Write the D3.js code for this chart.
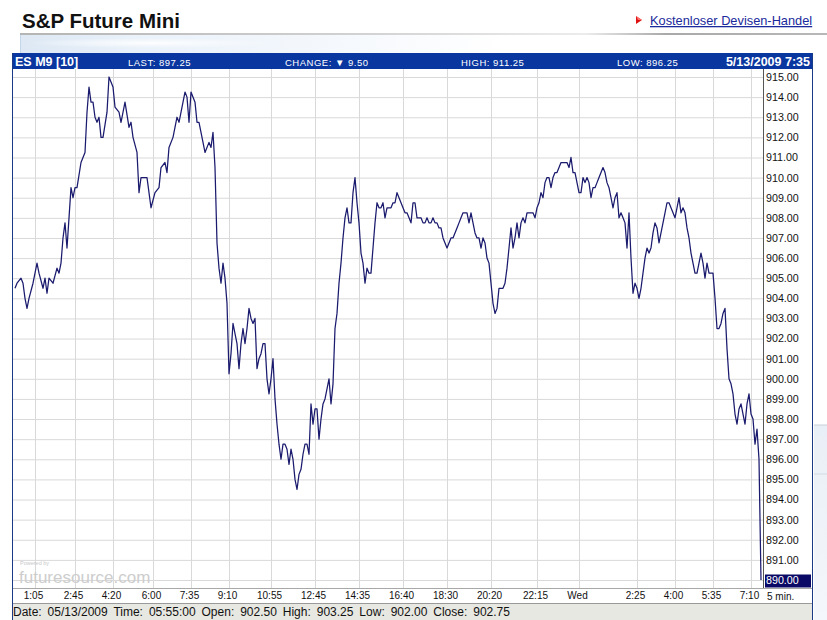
<!DOCTYPE html>
<html>
<head>
<meta charset="utf-8">
<script src="https://cdn.jsdelivr.net/npm/d3@7"></script>
<style>
html,body{margin:0;padding:0;background:#fff;}
svg{display:block;font-family:"Liberation Sans",Arial,sans-serif;}
</style>
</head>
<body>
<svg id="chart" width="827" height="620"></svg>
<script>
// ---- data ----
const title = "S&P Future Mini";
const linkText = "Kostenloser Devisen-Handel";
const symbol = "ES M9 [10]";
const lastPrice = "897.25";
const changeVal = "9.50";
const highVal = "911.25";
const lowVal = "896.25";
const stamp = "5/13/2009 7:35";
const statusItems = ["Date: 05/13/2009", "Time: 05:55:00", "Open: 902.50", "High: 903.25", "Low: 902.00", "Close: 902.75"];

// 5-minute bar index of each x tick and its label
const tickBars = [11, 31, 50, 70, 89, 108, 129, 151, 173, 195, 217, 239, 262, 283, 312, 331, 350, 369];
const tickLabels = ["1:05", "2:45", "4:20", "6:00", "7:35", "9:10", "10:55", "12:45", "14:35", "16:40", "18:30", "20:20", "22:15", "Wed", "2:25", "4:00", "5:35", "7:10"];
const intervalLabel = "5 min.";
const priceTicks = [890, 891, 892, 893, 894, 895, 896, 897, 898, 899, 900, 901, 902, 903, 904, 905, 906, 907, 908, 909, 910, 911, 912, 913, 914, 915];

// price series: bar index and price
const earlyBars = [1, 2, 4, 5, 6, 7, 8, 10, 12, 13, 15, 16, 17, 18, 20, 22, 23, 24, 25, 26, 27, 28, 29, 30, 31, 32, 34, 35, 36, 37, 38, 39, 40, 41, 42, 43, 44, 45, 47, 48, 50, 51, 53, 54, 56, 58, 59, 60, 62, 63, 64, 67, 68, 69, 71, 73, 74, 76, 77, 78, 80, 82, 83, 85, 86, 87, 88, 89, 91, 92, 93, 94, 96, 98, 99, 100];
const earlyPrices = [904.5, 904.75, 905.0, 904.75, 904.0, 903.5, 904.0, 904.75, 905.75, 905.25, 904.5, 905.0, 904.25, 905.0, 904.75, 905.5, 905.25, 905.75, 907.0, 907.75, 906.5, 908.0, 909.5, 909.0, 909.5, 909.5, 910.75, 911.0, 911.25, 913.25, 914.5, 913.75, 913.75, 913.0, 912.75, 913.0, 912.0, 912.0, 913.25, 915.0, 914.5, 913.5, 913.25, 912.75, 913.75, 912.5, 912.75, 912.0, 911.25, 909.25, 910.0, 910.0, 909.25, 908.5, 909.25, 909.5, 910.5, 910.75, 910.25, 911.5, 912.0, 913.0, 912.75, 913.75, 914.25, 914.0, 912.75, 914.25, 913.75, 912.75, 912.75, 912.25, 911.25, 911.75, 911.5, 912.25];
const laterFirstBar = 101;
const laterPrices = [
  910.5,906.75,905.5,904.75,905.75,905.0,903.75,900.25,901.25,902.75,
  902.25,901.75,900.5,901.75,902.5,901.75,902.5,903.5,903.0,902.75,
  903.0,900.5,901.0,901.25,901.75,901.75,900.0,899.25,900.0,901.0,
  899.0,897.75,896.75,896.0,896.75,896.75,896.5,895.75,896.5,896.0,
  895.0,894.5,895.25,895.5,896.25,896.75,896.75,896.25,898.75,897.75,
  898.5,898.5,897.0,898.0,898.75,899.0,899.5,900.0,898.75,899.75,
  902.5,903.25,904.75,905.75,907.0,908.0,908.5,907.75,907.75,909.25,
  910.0,908.75,907.75,906.25,905.75,904.75,905.5,905.25,905.25,906.5,
  907.75,908.75,908.5,908.5,908.75,908.0,908.5,908.5,908.5,908.75,
  908.75,909.25,909.0,908.75,908.5,908.25,908.25,908.0,907.75,908.75,
  908.75,908.0,908.0,908.0,907.75,907.75,908.0,907.75,907.75,908.0,
  907.75,907.75,907.5,907.5,907.0,906.75,906.5,906.75,907.0,907.0,
  907.25,907.5,907.75,908.0,908.25,908.25,908.25,907.75,908.25,907.75,
  907.25,907.0,907.0,906.5,907.0,906.75,906.0,905.75,904.75,903.75,
  903.25,903.5,904.5,904.5,904.5,904.75,905.5,906.5,907.5,906.5,
  907.0,907.75,907.0,907.75,908.0,907.75,908.25,908.25,908.25,908.25,
  908.0,908.5,908.75,909.25,909.0,909.75,910.0,910.0,909.5,910.0,
  910.25,910.25,910.5,910.75,910.75,910.75,910.75,910.5,911.0,910.25,
  910.25,909.75,909.25,909.25,910.0,909.75,910.0,909.75,909.0,909.5,
  909.5,909.75,910.0,910.25,910.5,910.25,909.75,909.5,909.0,908.5,
  909.0,909.25,908.0,908.25,908.0,907.75,906.5,908.25,906.0,904.25,
  904.75,904.5,904.0,904.5,905.25,906.0,906.5,906.25,906.5,907.25,
  907.75,907.5,906.75,907.25,907.75,908.25,908.75,908.75,908.5,908.25,
  908.0,908.5,909.0,908.25,908.5,908.25,907.5,907.0,906.25,905.75,
  905.25,905.25,905.75,906.25,905.75,905.0,905.75,905.25,905.25,905.25,
  904.0,902.5,902.5,902.75,903.25,903.5,901.5,900.0,899.75,899.25,
  898.25,897.75,898.5,898.75,898.25,897.75,898.75,899.25,898.25,898.0,
  896.75,897.5,896.0,890.0
];
const laterBars = d3.range(laterFirstBar, laterFirstBar + laterPrices.length);
const bars = earlyBars.concat(laterBars);
const prices = earlyPrices.concat(laterPrices);
const series = bars.map((b, i) => ({bar: b, price: prices[i]}));

// ---- layout ----
const svg = d3.select("#chart");
const F = "'Liberation Sans',Arial,sans-serif";
const plotL = 13, plotR = 763, plotT = 69, plotB = 588;
const x = d3.scaleLinear().domain([0, 374]).range([13, 761]);
const y = d3.scaleLinear().domain([890, 915]).range([580, 77]);

const defs = svg.append("defs");
const g1 = defs.append("linearGradient").attr("id", "hdrLine").attr("x1", 0).attr("x2", 1);
[[0, "#b4b4b4"], [0.45, "#d4d4d4"], [0.7, "#ececec"], [0.8, "#a9a9a9"], [1, "#b8b8b8"]]
  .forEach(s => g1.append("stop").attr("offset", s[0]).attr("stop-color", s[1]));
const g2 = defs.append("linearGradient").attr("id", "glow").attr("x1", 0).attr("x2", 1);
[[0, "#dde8f4"], [0.15, "#eaf2fa"], [0.35, "#f3f7fc"], [0.6, "#ffffff"], [1, "#ffffff"]]
  .forEach(s => g2.append("stop").attr("offset", s[0]).attr("stop-color", s[1]));
const g3 = defs.append("linearGradient").attr("id", "side").attr("x1", 0).attr("x2", 0).attr("y1", 0).attr("y2", 1);
[[0, "#e9eff6"], [1, "#f4f7fb"]].forEach(s => g3.append("stop").attr("offset", s[0]).attr("stop-color", s[1]));
const g4 = defs.append("radialGradient").attr("id", "streak");
[[0, "#ffffff", 0.9], [1, "#ffffff", 0]].forEach(s => g4.append("stop").attr("offset", s[0])
  .attr("stop-color", s[1]).attr("stop-opacity", s[2]));

// header
svg.append("text").attr("x", 22).attr("y", 28).attr("font-family", F).attr("font-weight", "bold")
  .attr("font-size", 20.5).attr("fill", "#111").text(title);
svg.append("path").attr("d", "M636,16 L642,20 L636,24 Z").attr("fill", "#e01010");
svg.append("path").attr("d", "M636,16 L642,20 L638,20 Z").attr("fill", "#ff7070");
svg.append("text").attr("x", 650).attr("y", 25).attr("font-family", F).attr("font-size", 12.8)
  .attr("fill", "#1a2a9c").attr("text-decoration", "underline").text(linkText);
svg.append("rect").attr("x", 20).attr("y", 33).attr("width", 807).attr("height", 2).attr("fill", "url(#hdrLine)");
svg.append("rect").attr("x", 20).attr("y", 35).attr("width", 807).attr("height", 18).attr("fill", "url(#glow)");
svg.append("rect").attr("x", 20).attr("y", 35).attr("width", 1).attr("height", 18).attr("fill", "#c4d6ea");
svg.append("ellipse").attr("cx", 150).attr("cy", 43).attr("rx", 125).attr("ry", 5).attr("fill", "url(#streak)");

// side panel right of frame
svg.append("rect").attr("x", 814).attr("y", 425).attr("width", 13).attr("height", 195).attr("fill", "url(#side)");
svg.append("line").attr("x1", 814).attr("x2", 827).attr("y1", 425).attr("y2", 425).attr("stroke", "#c8d0d8");
svg.append("line").attr("x1", 814).attr("x2", 827).attr("y1", 474).attr("y2", 474).attr("stroke", "#d4dae2");

// plot background
svg.append("rect").attr("x", 12).attr("y", 69).attr("width", 801).attr("height", 535).attr("fill", "#fff");

// gridlines
svg.append("g").selectAll("line").data(priceTicks).join("line")
  .attr("x1", plotL).attr("x2", plotR).attr("y1", d => y(d) + 0.5).attr("y2", d => y(d) + 0.5)
  .attr("stroke", "#d9d9d9").attr("stroke-width", 1);
svg.append("g").selectAll("line").data(tickBars).join("line")
  .attr("x1", d => Math.round(x(d)) + 0.5).attr("x2", d => Math.round(x(d)) + 0.5)
  .attr("y1", plotT).attr("y2", plotB)
  .attr("stroke", "#d9d9d9").attr("stroke-width", 1);

// watermark
svg.append("text").attr("x", 20).attr("y", 565).attr("font-family", F).attr("font-size", 5.5)
  .attr("fill", "#c8c8c8").text("Powered by");
svg.append("text").attr("x", 19).attr("y", 583).attr("font-family", F).attr("font-size", 17)
  .attr("fill", "#cdcdcd").text("futuresource.com");

// price line
const line = d3.line().x(d => x(d.bar)).y(d => y(d.price));
svg.append("path").datum(series).attr("d", line).attr("fill", "none")
  .attr("stroke", "#1a1a6e").attr("stroke-width", 1.25).attr("stroke-linejoin", "round");

// y axis (right)
svg.append("line").attr("x1", plotR + 0.5).attr("x2", plotR + 0.5).attr("y1", plotT).attr("y2", plotB)
  .attr("stroke", "#555").attr("stroke-width", 1);
const yAxis = d3.axisRight(y).tickValues(priceTicks).tickSize(0).tickPadding(3).tickFormat(d3.format(".2f"));
const ya = svg.append("g").attr("transform", `translate(${plotR},0)`).call(yAxis);
ya.select(".domain").remove();
ya.selectAll("text").attr("font-family", F).attr("font-size", 10.7).attr("fill", "#111");
// highlighted bottom label
const lowTick = priceTicks[0];
ya.selectAll(".tick").filter(d => d === lowTick).insert("rect", "text")
  .attr("x", 2).attr("y", -6).attr("width", 46).attr("height", 13).attr("fill", "#0a0a66");
ya.selectAll(".tick").filter(d => d === lowTick).select("text").attr("fill", "#fff");

// x axis
svg.append("line").attr("x1", 12).attr("x2", 813).attr("y1", plotB + 0.5).attr("y2", plotB + 0.5)
  .attr("stroke", "#a8a8a8");
const xAxis = d3.axisBottom(x).tickValues(tickBars).tickSize(0).tickPadding(4)
  .tickFormat((d, i) => tickLabels[i]);
const xa = svg.append("g").attr("transform", `translate(-2,${plotB})`).call(xAxis);
xa.select(".domain").remove();
xa.selectAll("text").attr("font-family", F).attr("font-size", 10).attr("fill", "#111");
svg.append("text").attr("x", 767).attr("y", 600).attr("font-family", F).attr("font-size", 10)
  .attr("fill", "#111").text(intervalLabel);

// status bar
svg.append("rect").attr("x", 12).attr("y", 603).attr("width", 801).attr("height", 17).attr("fill", "#e8e8e2");
svg.append("line").attr("x1", 12).attr("x2", 813).attr("y1", 603.5).attr("y2", 603.5).attr("stroke", "#9a9a9a");
svg.append("text").attr("x", 13).attr("y", 616).attr("font-family", F).attr("font-size", 12)
  .attr("fill", "#111").attr("word-spacing", 2.6).text(statusItems.join(" "));

// blue info bar
svg.append("rect").attr("x", 12).attr("y", 53).attr("width", 801).attr("height", 16).attr("fill", "#0a36a0");
svg.append("text").attr("x", 15).attr("y", 66).attr("font-family", F).attr("font-weight", "bold")
  .attr("font-size", 12.5).attr("fill", "#fff").text(symbol);
const small = [[128, "LAST: " + lastPrice], [285, "CHANGE: \u25BC " + changeVal], [461, "HIGH: " + highVal], [617, "LOW: " + lowVal]];
svg.append("g").selectAll("text").data(small).join("text")
  .attr("x", d => d[0]).attr("y", 65.5).attr("font-family", F).attr("font-size", 9.5)
  .attr("letter-spacing", 0.5).attr("fill", "#fff").text(d => d[1]);
svg.append("text").attr("x", 810).attr("y", 66).attr("text-anchor", "end").attr("font-family", F)
  .attr("font-weight", "bold").attr("font-size", 12.5).attr("fill", "#fff").text(stamp);

// frame borders
svg.append("line").attr("x1", 12.5).attr("x2", 12.5).attr("y1", 53).attr("y2", 620).attr("stroke", "#1b3a86");
svg.append("line").attr("x1", 812.5).attr("x2", 812.5).attr("y1", 53).attr("y2", 620).attr("stroke", "#1b3a86");
</script>
</body>
</html>
